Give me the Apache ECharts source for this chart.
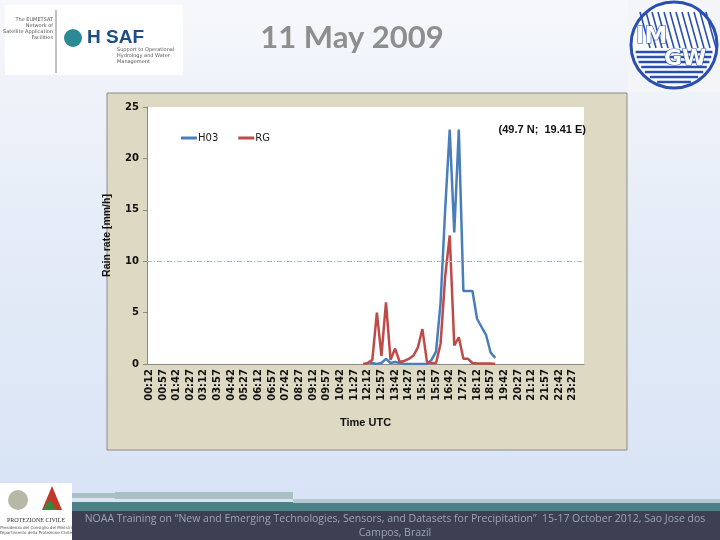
<!DOCTYPE html>
<html>
<head>
<meta charset="utf-8">
<script src="https://cdn.jsdelivr.net/npm/echarts@6/dist/echarts.min.js"></script>
<style>
html,body{margin:0;padding:0;}
#main{width:720px;height:540px;background:linear-gradient(#f6f8fb 0%,#eef2f9 18%,#e2eaf7 55%,#d6e2f5 100%);}
</style>
</head>
<body>
<div id="main"></div>
<script>
// time labels, every 15 minutes
const times = [
  '00:12','00:27','00:42','00:57','01:12','01:27','01:42','01:57','02:12','02:27','02:42','02:57',
  '03:12','03:27','03:42','03:57','04:12','04:27','04:42','04:57','05:12','05:27','05:42','05:57',
  '06:12','06:27','06:42','06:57','07:12','07:27','07:42','07:57','08:12','08:27','08:42','08:57',
  '09:12','09:27','09:42','09:57','10:12','10:27','10:42','10:57','11:12','11:27','11:42','11:57',
  '12:12','12:27','12:42','12:57','13:12','13:27','13:42','13:57','14:12','14:27','14:42','14:57',
  '15:12','15:27','15:42','15:57','16:12','16:27','16:42','16:57','17:12','17:27','17:42','17:57',
  '18:12','18:27','18:42','18:57','19:12','19:27','19:42','19:57','20:12','20:27','20:42','20:57',
  '21:12','21:27','21:42','21:57','22:12','22:27','22:42','22:57','23:12','23:27','23:42','23:57'
];

// first time slot with a value (12:12)
const h03From = 48;
const h03 = [0.2, 0.1, 0.0, 0.1, 0.5, 0.1, 0.2, 0.1, 0, 0, 0, 0, 0, 0, 0.4, 1.2, 6.0, 15.0, 22.8,
  12.8, 22.8, 7.1, 7.1, 7.1, 4.4, 3.6, 2.8, 1.1, 0.6];

// rain gauge starts one slot earlier (11:57)
const rgFrom = 47;
const rg = [0.0, 0.1, 0.4, 5.0, 0.8, 6.0, 0.4, 1.5, 0.2, 0.3, 0.5, 0.8, 1.6, 3.4, 0.2, 0.1, 0.1, 2.0, 8.5, 12.5,
  1.8, 2.6, 0.5, 0.5, 0.1, 0.05, 0.05, 0.05, 0.05, 0.0];

const yTicks = [0, 5, 10, 15, 20, 25];
const refLine = 10;

function pad(from, vals) {
  let out = times.map(() => null);
  vals.forEach((v, k) => { out[from + k] = v });
  return out;
}

const blue = '#4a7ebb';
const red = '#be4b48';
const footer = 'NOAA Training on \u201cNew and Emerging Technologies, Sensors, and Datasets for Precipitation\u201d  15-17 October 2012, Sao Jose dos';

// stripes in the lower half of the round logo
let stripes = [];
for (let k = 0; k < 7; k++) {
  let y = 52 + k * 5;
  let dy = y - 45;
  let hw = Math.sqrt(Math.max(0, 42 * 42 - dy * dy));
  stripes.push({type: 'line', shape: {x1: 674 - hw + 3, y1: y, x2: 674 + hw - 3, y2: y},
    style: {stroke: '#2a4fb0', lineWidth: 2.5}, z: -5});
}
let diag = [];
for (let k = 0; k < 12; k++) {
  let x = 640 + k * 6;
  diag.push({type: 'line', shape: {x1: x, y1: 12, x2: x + 10, y2: 48},
    style: {stroke: '#2a4fb0', lineWidth: 1.6}, z: -5});
}

let myChart = echarts.init(document.getElementById('main'));
myChart.setOption({
  animation: false,
  textStyle: {fontFamily: 'DejaVu Sans'},
  graphic: {elements: [
    // top left logo box
    {type: 'rect', shape: {x: 5, y: 5, width: 178, height: 70}, style: {fill: '#ffffff'}, z: -10},
    {type: 'text', x: 53, y: 17, style: {text: 'The EUMETSAT\nNetwork of\nSatellite Application\nFacilities',
      font: '5px "DejaVu Sans"', fill: '#555', align: 'right', lineHeight: 6}, z: -5},
    {type: 'line', shape: {x1: 56, y1: 10, x2: 56, y2: 73}, style: {stroke: '#666', lineWidth: 0.8}, z: -5},
    {type: 'circle', shape: {cx: 73, cy: 38, r: 9}, style: {fill: '#2b8a94'}, z: -5},
    {type: 'text', x: 87, y: 28, style: {text: 'H SAF', font: 'bold 19px "Liberation Sans"', fill: '#1d4f86'}, z: -5},
    {type: 'text', x: 117, y: 47, style: {text: 'Support to Operational\nHydrology and Water\nManagement',
      font: '5px "DejaVu Sans"', fill: '#555', lineHeight: 6}, z: -5},
    // title
    {type: 'text', x: 352, y: 38, style: {text: '11 May 2009', font: 'bold 31px Lato', fill: '#8e8e8e',
      align: 'center', verticalAlign: 'middle'}, z: -5},
    // right logo
    {type: 'rect', shape: {x: 628, y: 0, width: 92, height: 92}, style: {fill: '#f3f5f9'}, z: -10},
    {type: 'circle', shape: {cx: 674, cy: 45, r: 43}, style: {fill: '#ffffff', stroke: '#2a4fb0', lineWidth: 3}, z: -6},
    ...diag,
    ...stripes,
    {type: 'text', x: 636, y: 26, style: {text: 'IM', font: 'bold 23px "DejaVu Sans"', fill: '#ffffff',
      stroke: '#2a4fb0', lineWidth: 1.2}, z: -4},
    {type: 'text', x: 664, y: 48, style: {text: 'GW', font: 'bold 22px "DejaVu Sans"', fill: '#ffffff',
      stroke: '#2a4fb0', lineWidth: 1.2}, z: -4},
    // chart panel
    {type: 'rect', shape: {x: 107, y: 93, width: 520, height: 357}, style: {fill: '#ddd9c3', stroke: '#8c8c8c', lineWidth: 1}, z: -10},
    {type: 'rect', shape: {x: 147, y: 107, width: 437, height: 257}, style: {fill: '#ffffff'}, z: -9},
    {type: 'text', x: 586, y: 130, style: {text: '(49.7 N;  19.41 E)', font: 'bold 11px "Liberation Sans"', fill: '#111',
      align: 'right', verticalAlign: 'middle'}, z: 5},
    // bottom band
    {type: 'rect', shape: {x: 50, y: 493, width: 65, height: 5}, style: {fill: '#a9c0c5'}, z: -8},
    {type: 'rect', shape: {x: 115, y: 492, width: 178, height: 7}, style: {fill: '#a9c0c5'}, z: -8},
    {type: 'rect', shape: {x: 50, y: 499, width: 243, height: 3}, style: {fill: '#d8e4ee'}, z: -8},
    {type: 'rect', shape: {x: 50, y: 502, width: 670, height: 9}, style: {fill: '#4d8189'}, z: -8},
    {type: 'rect', shape: {x: 293, y: 499, width: 427, height: 4}, style: {fill: '#b5c8d0'}, z: -8},
    {type: 'rect', shape: {x: 0, y: 511, width: 720, height: 29}, style: {fill: '#3d3f52'}, z: -8},
    {type: 'text', x: 395, y: 519, style: {text: footer, font: '10.5px "Open Sans"', fill: '#9ba5b6',
      align: 'center', verticalAlign: 'middle'}, z: -4},
    {type: 'text', x: 395, y: 533, style: {text: 'Campos, Brazil', font: '10.5px "Open Sans"', fill: '#9ba5b6',
      align: 'center', verticalAlign: 'middle'}, z: -4},
    // bottom left logo
    {type: 'rect', shape: {x: 0, y: 483, width: 72, height: 57}, style: {fill: '#ffffff'}, z: -7},
    {type: 'circle', shape: {cx: 18, cy: 500, r: 10}, style: {fill: '#b8b8a8'}, z: -6},
    {type: 'polygon', shape: {points: [[42, 510], [52, 486], [62, 510]]}, style: {fill: '#c0392b'}, z: -6},
    {type: 'polygon', shape: {points: [[42, 510], [50, 500], [56, 510]]}, style: {fill: '#2e8b3e'}, z: -5},
    {type: 'text', x: 36, y: 520, style: {text: 'PROTEZIONE CIVILE', font: '6px "Liberation Serif"', fill: '#333',
      align: 'center', verticalAlign: 'middle'}, z: -5},
    {type: 'text', x: 36, y: 530, style: {text: 'Presidenza del Consiglio dei Ministri\nDipartimento della Protezione Civile',
      font: '4px "DejaVu Sans"', fill: '#555', align: 'center', verticalAlign: 'middle', lineHeight: 5}, z: -5}
  ]},
  legend: {
    data: ['H03', 'RG'],
    left: 176, top: 128,
    icon: 'rect', itemWidth: 16, itemHeight: 3, itemGap: 20,
    textStyle: {fontSize: 10, color: '#222', padding: [0, 0, 0, -4]}
  },
  grid: {left: 147, top: 107, width: 437, height: 257},
  xAxis: {
    type: 'category',
    data: times,
    boundaryGap: true,
    name: 'Time UTC',
    nameLocation: 'middle',
    nameGap: 53,
    nameTextStyle: {fontSize: 11, fontWeight: 'bold', color: '#111', fontFamily: 'Liberation Sans'},
    axisLine: {lineStyle: {color: '#8a8a8a', width: 1}},
    axisTick: {interval: 0, length: 4, lineStyle: {color: '#8a8a8a'}},
    axisLabel: {interval: 2, rotate: 90, fontSize: 10, fontWeight: 'bold', color: '#111', margin: 5}
  },
  yAxis: {
    type: 'value',
    min: 0, max: 25, interval: 5,
    name: 'Rain rate [mm/h]',
    nameLocation: 'middle',
    nameRotate: 90,
    nameGap: 34,
    nameTextStyle: {fontSize: 10.5, fontWeight: 'bold', color: '#111', fontFamily: 'Liberation Sans'},
    axisLine: {show: true, lineStyle: {color: '#8a8a8a'}},
    axisTick: {show: true, length: 4, lineStyle: {color: '#8a8a8a'}},
    splitLine: {show: false},
    axisLabel: {fontSize: 10, fontWeight: 'bold', color: '#111', margin: 8,
      formatter: v => yTicks.includes(v) ? String(v) : ''}
  },
  series: [
    {
      name: 'H03', type: 'line', data: pad(h03From, h03),
      showSymbol: false, symbol: 'none',
      lineStyle: {color: blue, width: 2.5}, itemStyle: {color: blue},
      markLine: {
        silent: true, symbol: ['none', 'none'], label: {show: false},
        lineStyle: {color: '#9cbfd0', type: [5, 2, 1, 2], width: 1, opacity: 1},
        emphasis: {disabled: true},
        data: [{yAxis: refLine, lineStyle: {color: '#9cbfd0'}}]
      }
    },
    {
      name: 'RG', type: 'line', data: pad(rgFrom, rg),
      showSymbol: false, symbol: 'none',
      lineStyle: {color: red, width: 2.5}, itemStyle: {color: red}
    }
  ]
});
</script>
</body>
</html>
